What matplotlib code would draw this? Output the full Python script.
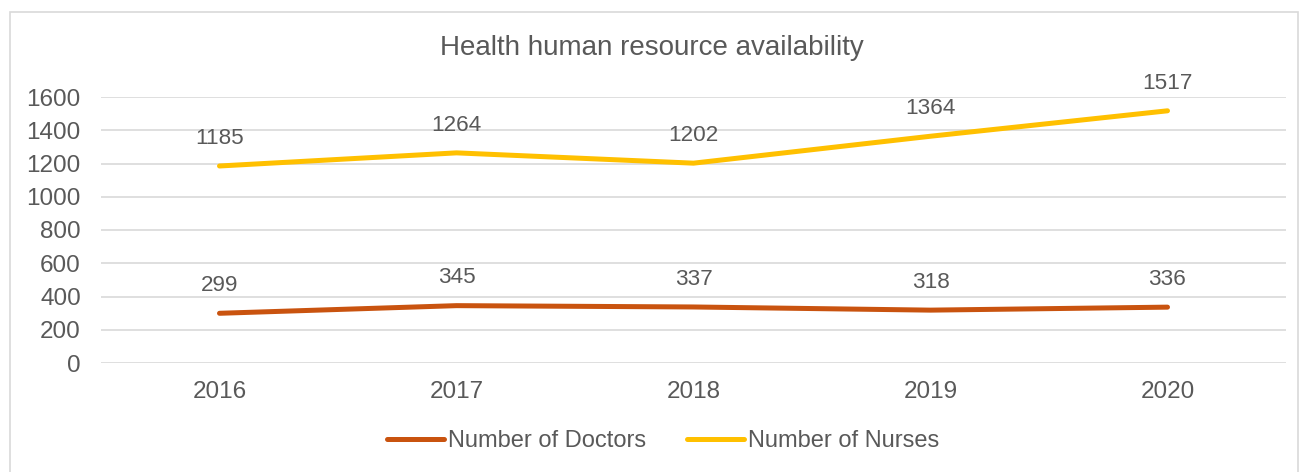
import matplotlib.pyplot as plt
from matplotlib.patches import Rectangle

# data
years   = ["2016", "2017", "2018", "2019", "2020"]
doctors = [299, 345, 337, 318, 336]
nurses  = [1185, 1264, 1202, 1364, 1517]

plt.rcParams["font.family"] = ["Liberation Sans", "DejaVu Sans"]
TEXT = "#595959"

fig = plt.figure(figsize=(13.03, 4.72), dpi=100)
ax = fig.add_axes([101 / 1303, 1 - 363 / 472, (1286 - 101) / 1303, (363 - 97) / 472])

x = range(len(years))
ax.plot(x, doctors, color="#C9530F", lw=3.6, solid_capstyle="round", label="Number of Doctors", zorder=3)
ax.plot(x, nurses, color="#FFC000", lw=3.6, solid_capstyle="round", label="Number of Nurses", zorder=3)

# data labels above each point
for xi, v in zip(x, doctors):
    ax.annotate(str(v), (xi, v), xytext=(0, 20), textcoords="offset points",
                ha="center", va="center", fontsize=16.2, color=TEXT, annotation_clip=False)
for xi, v in zip(x, nurses):
    ax.annotate(str(v), (xi, v), xytext=(0, 20), textcoords="offset points",
                ha="center", va="center", fontsize=16.2, color=TEXT, annotation_clip=False)

ax.set_xlim(-0.5, len(years) - 0.5)
ax.set_ylim(0, 1600)
ax.set_yticks(range(0, 1601, 200))
ax.set_xticks(list(x))
ax.set_xticklabels(years)
ax.grid(axis="y", color="#D9D9D9", lw=1.2)
ax.set_axisbelow(True)
for s in ax.spines.values():
    s.set_visible(False)
ax.tick_params(length=0, labelsize=17.5, labelcolor=TEXT)
ax.tick_params(axis="x", pad=13)
ax.tick_params(axis="y", pad=14.5)

fig.text(0.5, 1 - 48 / 472, "Health human resource availability",
         ha="center", va="center", fontsize=20, color=TEXT)

fig.legend(loc="center", bbox_to_anchor=(663 / 1303, 1 - 441 / 472), ncol=2, frameon=False,
           fontsize=17, labelcolor=TEXT, handlelength=2.4, handletextpad=0.17, columnspacing=1.75)

# chart border
fig.patches.append(Rectangle((10 / 1303, -0.01), 1288 / 1303, 1 - 12 / 472 + 0.01,
                             transform=fig.transFigure, fill=False, edgecolor="#D9D9D9", lw=1.2))

fig.savefig("out.png", dpi=100)
